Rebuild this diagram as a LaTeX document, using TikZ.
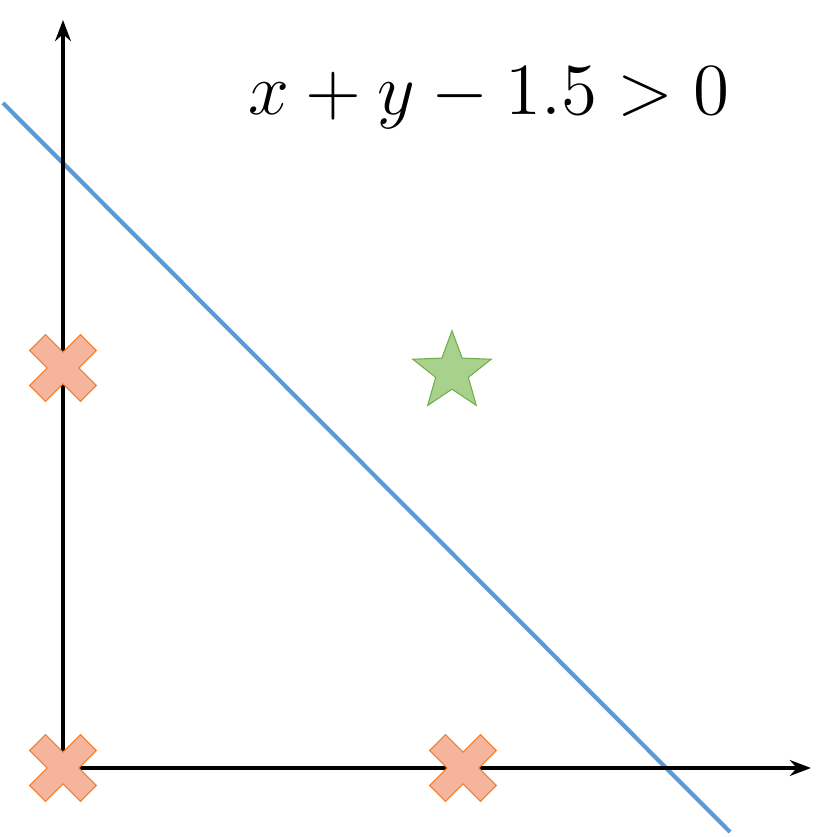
\documentclass[tikz,border=0pt]{standalone}
\usetikzlibrary{arrows.meta,shapes.geometric}
\definecolor{lineblue}{RGB}{91,155,213}
\definecolor{crossfill}{RGB}{245,180,155}
\definecolor{crossdraw}{RGB}{237,125,49}
\definecolor{starfill}{RGB}{169,209,142}
\definecolor{stardraw}{RGB}{112,173,71}
\tikzset{
  axis/.style={line width=2.4pt,-{Stealth[length=12pt,width=9pt]}},
  boundary/.style={line width=2.4pt,lineblue},
  cross/.style={fill=crossfill,draw=crossdraw,line width=0.6pt},
  goodpt/.style={star,star points=5,star point ratio=2.4,minimum size=1.65cm,inner sep=0pt,fill=starfill,draw=stardraw,line width=0.6pt}
}
\newcommand{\xmark}[1]{%
  \fill[cross,shift={#1},rotate=45] (-0.09,-0.028)--(-0.028,-0.028)--(-0.028,-0.09)--(0.028,-0.09)--(0.028,-0.028)--(0.09,-0.028)--(0.09,0.028)--(0.028,0.028)--(0.028,0.09)--(-0.028,0.09)--(-0.028,0.028)--(-0.09,0.028)--cycle;}
\begin{document}
\begin{tikzpicture}[x=8cm,y=8cm]
    \useasboundingbox (-0.1575,-0.1725) rectangle (1.92,1.92);
    \coordinate (o) at (0,0);
    \coordinate (xend) at (1.87,0);
    \coordinate (yend) at (0,1.87);
    \coordinate (bs) at (-0.15,1.6625);
    \coordinate (be) at (1.6675,-0.16);

    \draw[boundary] (bs)--(be);
    \draw[axis] (o)--(xend);
    \draw[axis] (o)--(yend);

    \xmark{(0,0)}
    \xmark{(1,0)}
    \xmark{(0,1)}
    \node[goodpt] (good) at (0.9725,0.99) {};

    \node[scale=2.9] (rule) at (1.065,1.675) {\Large $x+y-1.5>0$};
\end{tikzpicture}
\end{document}
